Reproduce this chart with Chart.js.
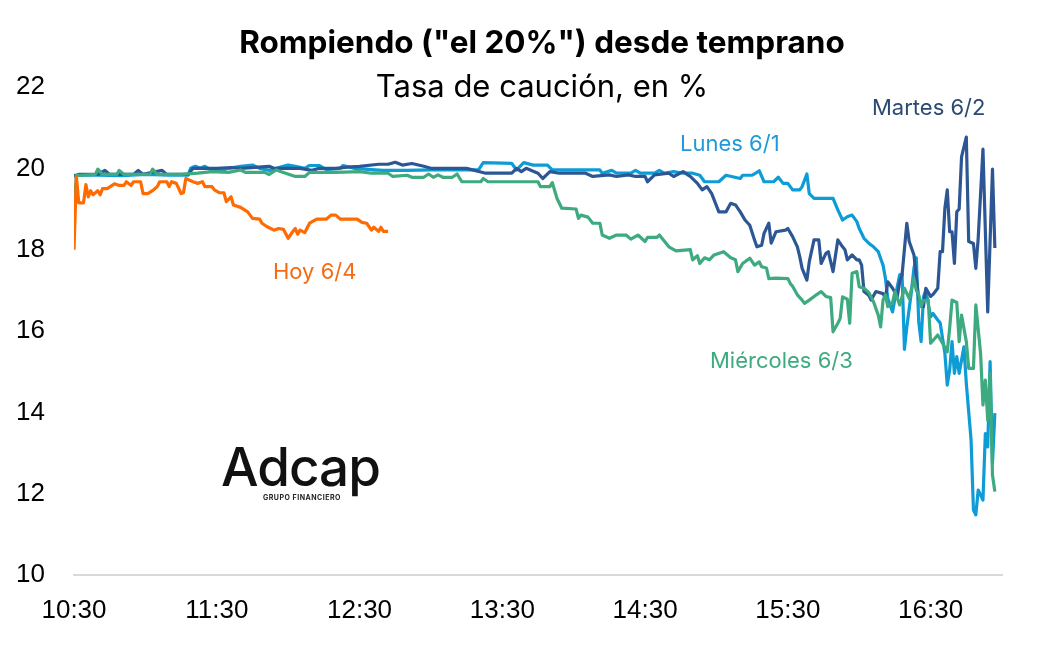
<!DOCTYPE html>
<html><head><meta charset="utf-8">
<script src="https://cdn.jsdelivr.net/npm/chart.js@4.4.1/dist/chart.umd.min.js"></script>
<style>
html,body{margin:0;padding:0;background:#fff;}
#wrap{position:relative;width:1053px;height:646px;overflow:hidden;background:#fff;}
canvas{position:absolute;left:0;top:0;}
.t{position:absolute;white-space:nowrap;font-family:Inter,'Liberation Sans',sans-serif;line-height:1;}
</style></head><body>
<div id="wrap">
<canvas id="c" width="1053" height="646" style="width:1053px;height:646px"></canvas>
<div class="t" style="left:0;width:1084px;text-align:center;top:26px;font-size:31.5px;font-weight:700;color:#000">Rompiendo ("el 20%") desde temprano</div>
<div class="t" style="left:0;width:1084px;text-align:center;top:70px;font-size:31px;font-weight:400;color:#000">Tasa de caución, en %</div>
<div class="t" style="left:680px;top:132px;font-size:22px;color:#1F9AD6">Lunes 6/1</div>
<div class="t" style="left:872px;top:96px;font-size:22px;color:#2B4A72">Martes 6/2</div>
<div class="t" style="left:710px;top:349px;font-size:22px;color:#3DAA7F">Miércoles 6/3</div>
<div class="t" style="left:273px;top:260px;font-size:22px;color:#F86A12">Hoy 6/4</div>
<div class="t" style="left:221px;top:441px;font-size:53px;font-weight:500;letter-spacing:-1px;color:#111">Adcap</div>
<div class="t" style="left:263px;top:494px;font-size:7px;font-weight:700;letter-spacing:0.5px;color:#222">GRUPO FINANCIERO</div>
</div>
<script>
// minutes after 10:30
const xTickLabels = ["10:30","11:30","12:30","13:30","14:30","15:30","16:30"];

const hoyT = [0,1,2,4,5,6,7,8,10,11,12,14,17,19,21,22,24,25,28,29,31,33,35,36,39,40,41,43,45,46,47,50,52,54,55,58,59,61,63,64,66,67,70,73,75,78,79,81,84,86,88,90,92,93,94,95,97,99,102,106,108,110,112,119,121,123,125,126,128,129,130,132];
const hoyV = [18.0,19.8,19.15,19.15,19.6,19.3,19.45,19.35,19.45,19.35,19.5,19.5,19.62,19.58,19.58,19.67,19.58,19.67,19.67,19.38,19.38,19.45,19.55,19.67,19.67,19.55,19.67,19.63,19.38,19.4,19.75,19.67,19.63,19.67,19.55,19.55,19.47,19.4,19.4,19.18,19.3,19.1,19.04,18.93,18.77,18.75,18.65,18.57,18.48,18.52,18.5,18.28,18.45,18.52,18.38,18.48,18.42,18.65,18.75,18.75,18.85,18.85,18.75,18.75,18.67,18.65,18.48,18.55,18.45,18.55,18.45,18.45];

const lunesT = [0,10,20,30,40,48,49,51,53,55,58,62,65,70,75,78,82,88,90,93,97,99,103,106,112,113,118,125,130,140,150,160,170,172,184,186,189,193,199,201,221,222,226,228,234,236,238,244,246,248,252,256,260,263,265,271,274,280,281,285,288,290,294,296,298,300,302,305,306,308,309,311,319,321,323,325,327,329,330,332,334,336,338,340,341,342,344,345,347,348,349,350,352,353,354,355,356,357,358,360,361,363,364,366,367,368,369,370,371,372,374,375,377,378,379,380,382,383,384,385,386,387];
const lunesV = [19.83,19.83,19.82,19.85,19.83,19.83,20.0,20.05,20.0,20.05,19.95,19.95,20.0,20.05,20.08,20.0,19.95,20.05,20.08,20.05,20.0,20.07,20.07,19.97,20.0,20.07,20.0,19.97,19.95,19.95,19.96,19.96,19.96,20.14,20.12,19.96,20.14,20.08,20.08,19.96,19.96,19.88,19.95,19.88,19.88,19.95,19.88,19.88,19.95,19.88,19.92,19.88,19.88,19.83,19.67,19.67,19.83,19.75,19.83,19.83,19.94,19.67,19.67,19.78,19.63,19.63,19.47,19.47,19.55,19.86,19.38,19.26,19.26,18.98,18.73,18.81,18.85,18.69,18.52,18.28,18.16,18.07,17.95,17.62,17.3,16.8,16.47,16.8,17.38,17.4,15.55,16.1,17.0,17.55,17.8,16.23,15.74,16.84,17.0,16.35,16.43,16.27,16.2,15.45,14.67,15.04,15.74,14.96,15.37,14.96,15.61,14.71,13.32,11.6,11.48,12.09,11.84,13.48,13.15,15.25,12.75,13.98];

const martesT = [0,2,10,13,15,25,27,29,37,39,48,50,60,66,70,82,84,95,100,103,110,115,120,128,132,135,138,142,147,150,165,173,184,186,188,190,195,197,200,204,215,218,225,228,233,236,240,241,244,250,252,256,258,259,262,264,266,268,271,274,276,278,280,282,284,286,287,289,290,292,293,295,299,300,302,304,305,306,308,309,311,313,314,316,317,319,321,323,324,325,327,329,330,331,332,334,335,337,340,341,342,344,346,347,348,350,351,353,354,355,357,358,360,361,363,364,365,366,367,368,369,370,371,372,373,375,376,378,379,380,382,384,386,387];
const martesV = [19.8,19.85,19.85,19.95,19.85,19.85,19.95,19.85,19.95,19.85,19.85,20.0,20.0,20.02,20.0,20.05,20.0,20.0,19.95,20.0,20.0,20.03,20.05,20.1,20.1,20.15,20.08,20.12,20.05,20.0,20.0,19.88,19.88,20.0,19.92,20.0,19.88,19.75,19.92,19.88,19.88,19.8,19.84,19.8,19.84,19.8,19.8,19.67,19.84,19.88,19.8,19.92,19.84,19.8,19.63,19.47,19.55,19.38,18.93,18.93,19.14,19.1,18.93,18.73,18.6,18.24,18.07,18.11,18.4,18.65,18.16,18.44,18.48,18.52,18.32,18.07,17.83,17.54,17.25,17.7,18.24,18.24,17.66,17.91,17.95,17.46,18.24,18.07,18.0,17.75,17.87,17.75,17.75,17.62,16.97,16.88,16.76,16.97,16.92,16.8,17.21,17.05,16.85,17.21,17.38,18.65,18.2,17.87,17.3,16.8,16.6,17.05,16.85,16.9,17.05,17.95,17.95,19.02,19.47,18.44,18.44,17.66,18.93,19.0,20.28,20.77,18.2,18.15,17.54,18.28,20.47,16.47,19.98,18.04];

const miercolesT = [0,1,9,10,12,18,19,21,32,33,35,45,52,58,65,70,72,80,82,85,88,93,97,99,110,120,125,132,134,140,142,147,149,151,153,155,159,161,163,171,172,174,195,196,200,201,203,205,211,212,213,216,218,221,222,225,228,232,234,237,240,241,245,246,250,253,259,260,262,263,265,267,269,273,276,278,279,281,284,286,288,289,291,292,295,300,301,302,304,306,307,309,312,314,316,318,319,321,322,323,325,326,327,329,330,332,334,336,338,339,340,341,342,344,345,347,349,351,353,354,355,356,357,359,360,363,365,367,368,369,371,372,373,375,376,378,379,381,382,383,384,385,386,387];
const miercolesV = [18.95,19.82,19.85,19.98,19.85,19.85,19.95,19.85,19.85,19.98,19.85,19.85,19.88,19.92,19.9,19.96,19.9,19.9,19.85,19.96,19.9,19.8,19.8,19.9,19.9,19.92,19.88,19.88,19.8,19.83,19.78,19.78,19.86,19.78,19.84,19.78,19.78,19.86,19.67,19.67,19.75,19.67,19.67,19.55,19.55,19.65,19.26,19.02,19.0,18.77,18.85,18.8,18.65,18.65,18.36,18.28,18.36,18.36,18.26,18.36,18.2,18.3,18.3,18.36,18.07,17.97,18.0,17.75,17.85,17.66,17.8,17.75,17.87,17.95,17.8,17.75,17.46,17.66,17.79,17.62,17.7,17.58,17.55,17.29,17.3,17.29,17.17,17.1,16.89,16.76,16.68,16.76,16.89,16.97,16.85,16.82,15.98,16.19,16.31,16.84,16.78,16.19,17.42,17.46,17.09,17.05,16.95,16.72,16.39,16.1,16.76,16.89,16.6,16.7,16.97,16.64,17.05,16.8,17.29,17.0,16.89,16.6,16.75,16.76,15.7,15.9,15.7,15.49,16.07,16.76,16.7,15.74,16.39,15.74,15.08,15.08,16.64,15.45,14.18,14.79,13.81,14.96,12.46,12.05];

function pts(T, V) { return T.map((t, i) => ({ x: t, y: V[i] })); }

const tickFont = { family: "'Liberation Sans', Arial, sans-serif", size: 26 };

new Chart(document.getElementById('c'), {
  type: 'line',
  data: {
    datasets: [
      { label: 'Hoy 6/4', data: pts(hoyT, hoyV), borderColor: '#FF6B00' },
      { label: 'Miércoles 6/3', data: pts(miercolesT, miercolesV), borderColor: '#3DAA7F' },
      { label: 'Martes 6/2', data: pts(martesT, martesV), borderColor: '#2D5794' },
      { label: 'Lunes 6/1', data: pts(lunesT, lunesV), borderColor: '#0E9CD6' }
    ].map(d => Object.assign(d, { borderWidth: 3.2, pointRadius: 0, tension: 0, fill: false, borderJoinStyle: 'round' }))
  },
  options: {
    responsive: false,
    animation: false,
    devicePixelRatio: 1,
    layout: { padding: { top: 87, right: 51, bottom: 0, left: 0 } },
    plugins: { legend: { display: false }, tooltip: { enabled: false }, title: { display: false } },
    scales: {
      x: {
        type: 'linear', min: 0, max: 390,
        grid: { display: false, drawTicks: false },
        border: { display: true, color: '#d9d9d9', width: 2 },
        ticks: { stepSize: 60, includeBounds: false, autoSkip: false, maxRotation: 0, padding: 20, color: '#000', font: tickFont,
                 callback: (v, i) => xTickLabels[i] },
        afterFit: s => { s.height = 71; }
      },
      y: {
        min: 10, max: 22,
        grid: { display: false, drawTicks: false },
        border: { display: false },
        ticks: { stepSize: 2, padding: 29, color: '#000', font: tickFont },
        afterFit: s => { s.width = 74; }
      }
    }
  }
});
</script>
</body></html>
